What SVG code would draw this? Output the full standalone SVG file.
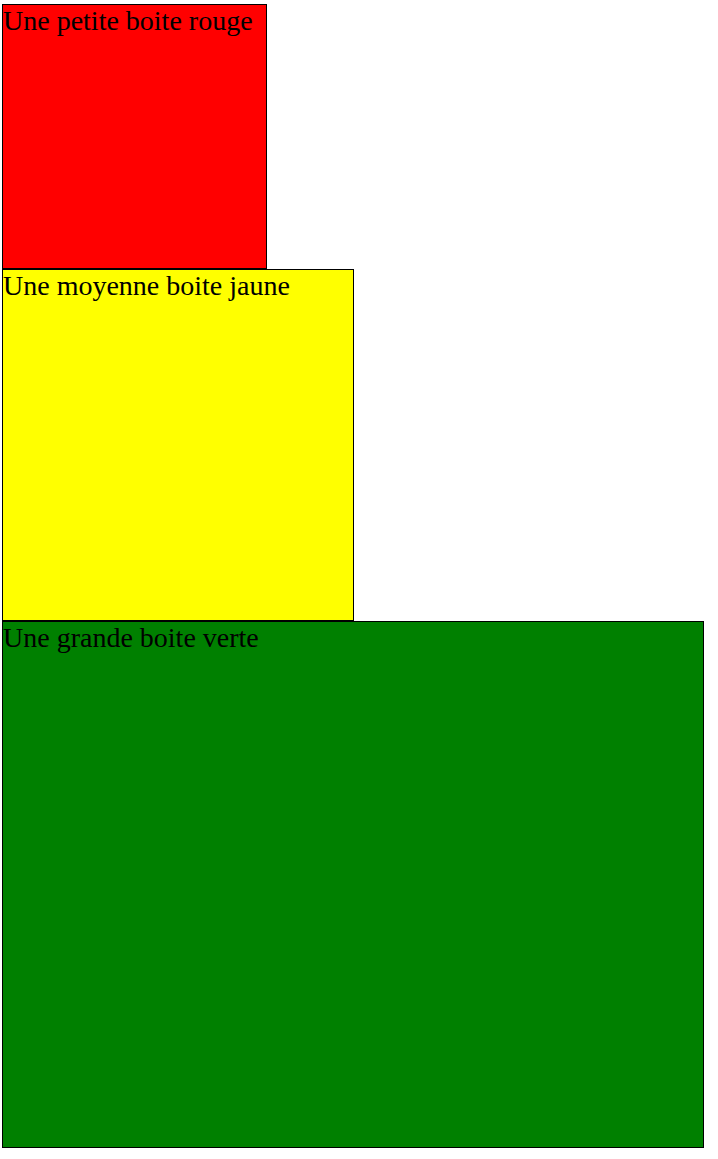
<svg xmlns="http://www.w3.org/2000/svg" width="718" height="1159" viewBox="0 0 718 1159">
<style>
.box{stroke:#000;stroke-width:1}
.lbl{font-family:"Liberation Serif","Times New Roman",serif;font-size:28px;fill:#000}
</style>
<rect width="718" height="1159" fill="#fff"/>
<g id="red">
<rect class="box" x="2.5" y="4.5" width="264" height="264" fill="#ff0000"/>
<text class="lbl" x="3" y="30">Une petite boite rouge</text>
</g>
<g id="yellow">
<rect class="box" x="2.5" y="269.5" width="351" height="351" fill="#ffff00"/>
<text class="lbl" x="3" y="295">Une moyenne boite jaune</text>
</g>
<g id="green">
<rect class="box" x="2.5" y="621.5" width="701" height="526" fill="#008000"/>
<text class="lbl" x="3" y="647">Une grande boite verte</text>
</g>
<g id="connectors"></g>
</svg>
